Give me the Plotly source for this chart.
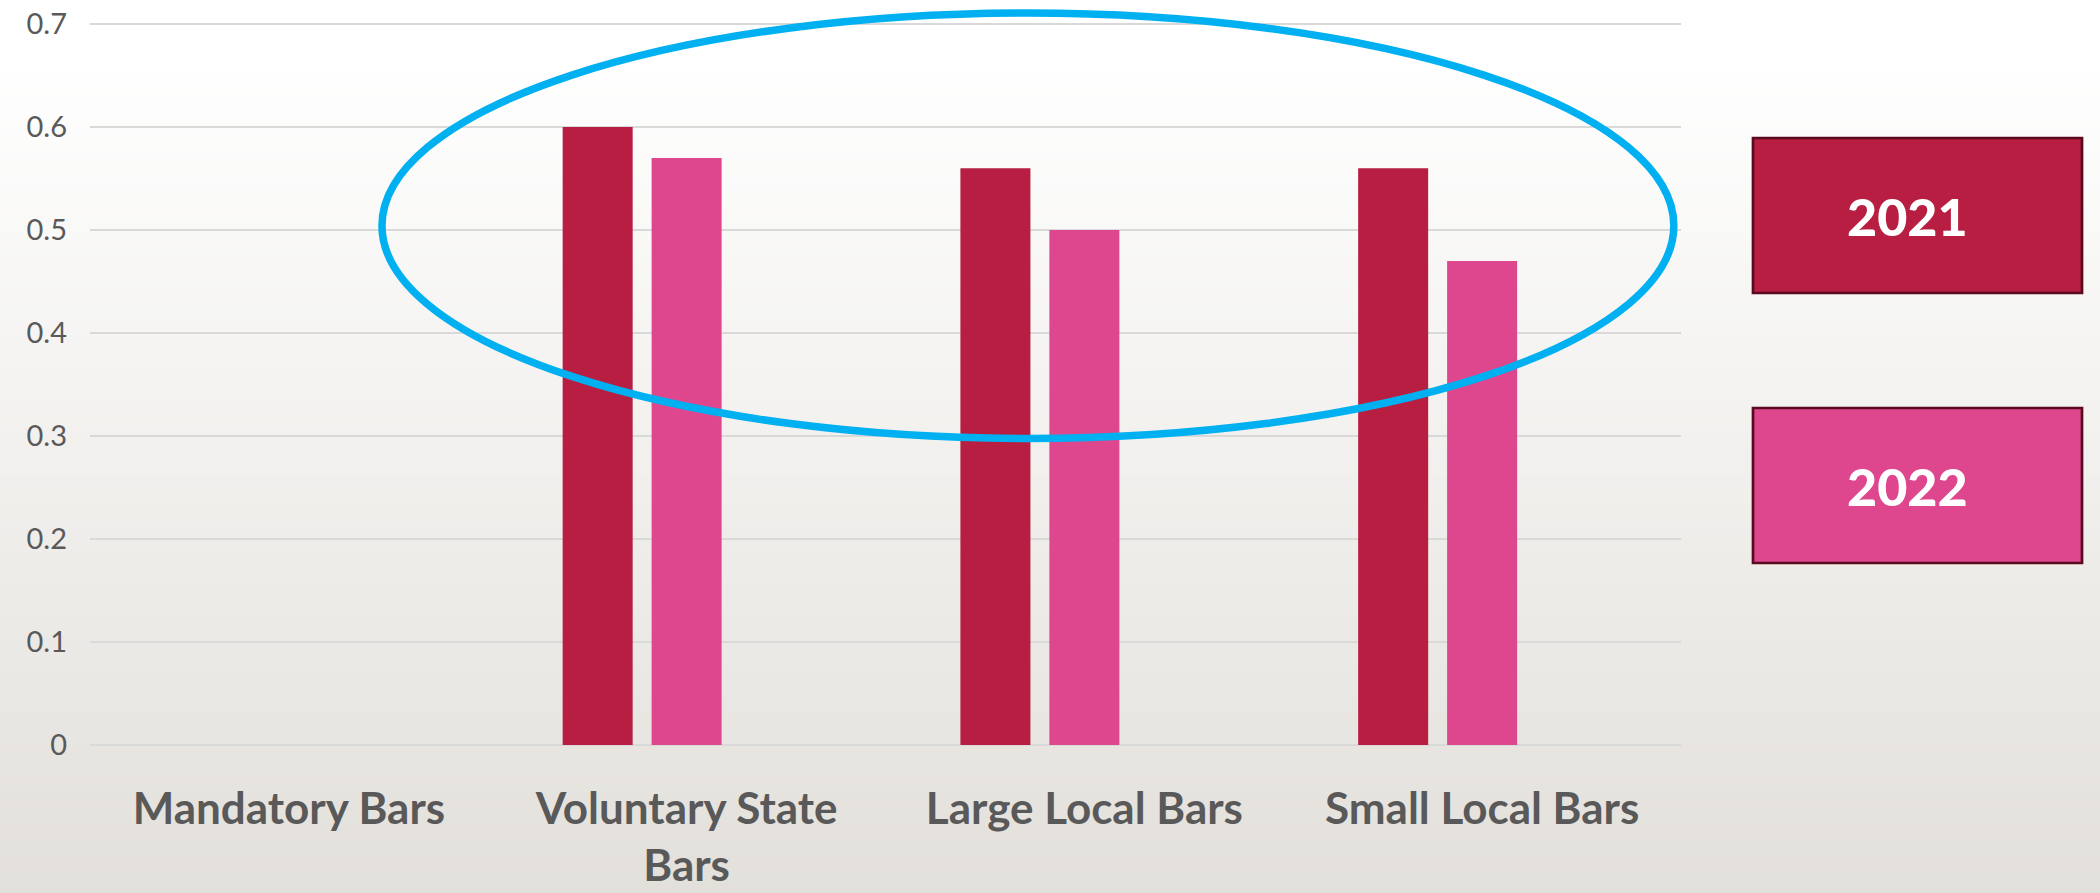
import plotly.graph_objects as go

categories = ["Mandatory Bars", "Voluntary State<br>Bars", "Large Local Bars", "Small Local Bars"]
series_names = ["2021", "2022", "Series3"]
values_2021 = [None, 0.60, 0.56, 0.56]
values_2022 = [None, 0.57, 0.50, 0.47]
values_s3 = [None, None, None, None]
series_colors = ["#B71E42", "#DE478E", "#7F7F7F"]
y_ticks = [0, 0.1, 0.2, 0.3, 0.4, 0.5, 0.6, 0.7]
y_tick_labels = ["0", "0.1", "0.2", "0.3", "0.4", "0.5", "0.6", "0.7"]

W, H = 2100, 893
ML, MR, MT, MB = 90, 419, 2, 148
PW, PH = W - ML - MR, H - MT - MB

fig = go.Figure()
for name, vals, col in zip(series_names, [values_2021, values_2022, values_s3], series_colors):
    fig.add_trace(go.Bar(x=categories, y=vals, name=name, marker=dict(color=col, line=dict(width=0)),
                         showlegend=False, hoverinfo="skip"))

def px_to_paper_x(px):
    return (px - ML) / PW

def px_to_paper_y(py):
    return (H - MB - py) / PH

shapes = []
# background gradient strips
n = 90
top_col = (255, 255, 255)
bot_col = (227, 224, 219)
start = 60
for i in range(n):
    y0p = i * H / n
    y1p = (i + 1) * H / n + 1
    mid = (y0p + y1p) / 2
    t = max(0.0, (mid - start) / (H - start))
    c = tuple(round(top_col[k] + (bot_col[k] - top_col[k]) * t) for k in range(3))
    shapes.append(dict(type="rect", xref="paper", yref="paper",
                       x0=px_to_paper_x(0), x1=px_to_paper_x(W),
                       y0=px_to_paper_y(y1p), y1=px_to_paper_y(y0p),
                       fillcolor="rgb(%d,%d,%d)" % c, line=dict(width=0), layer="below"))

# highlight ellipse
shapes.append(dict(type="circle", xref="x", yref="y", x0=0.234, x1=3.482, y0=0.2976, y1=0.7107,
                   line=dict(color="#00B0F0", width=7.5), layer="above"))

# legend boxes
annotations = []
box_y = [(138, 293), (408, 563)]
for (yt, yb), name, col in zip(box_y, series_names[:2], series_colors[:2]):
    shapes.append(dict(type="rect", xref="paper", yref="paper",
                       x0=px_to_paper_x(1753), x1=px_to_paper_x(2082),
                       y0=px_to_paper_y(yb), y1=px_to_paper_y(yt),
                       fillcolor=col, line=dict(color="#5A0A1E", width=2.7), layer="above"))
    annotations.append(dict(xref="paper", yref="paper", x=px_to_paper_x(1907), y=px_to_paper_y((yt + yb) / 2),
                            text=name, showarrow=False, xanchor="center", yanchor="middle",
                            font=dict(family="Lato", size=52, color="white", weight=900)))

fig.update_layout(
    width=W, height=H,
    margin=dict(l=ML, r=MR, t=MT, b=MB),
    paper_bgcolor="white",
    plot_bgcolor="rgba(0,0,0,0)",
    barmode="group",
    bargap=0.329,
    bargroupgap=0.213,
    shapes=shapes,
    annotations=annotations,
    hovermode=False,
    xaxis=dict(
        type="category",
        showgrid=False, zeroline=False, showline=False,
        ticks="", ticklabelstandoff=34,
        tickfont=dict(family="Lato", size=44, color="#595959", weight="bold"),
        range=[-0.5, 3.5],
    ),
    yaxis=dict(
        range=[0, 0.7214],
        tickvals=y_ticks, ticktext=y_tick_labels,
        showgrid=True, gridcolor="#D9D9D9", gridwidth=1.5,
        zeroline=True, zerolinecolor="#D9D9D9", zerolinewidth=1.5,
        showline=False, ticks="", ticklabelstandoff=22,
        tickfont=dict(family="Lato", size=29, color="#595959"),
    ),
)

fig.write_html("out.html", config={"displayModeBar": False},
               post_script="document.body.style.margin='0';document.body.style.overflow='hidden';")
